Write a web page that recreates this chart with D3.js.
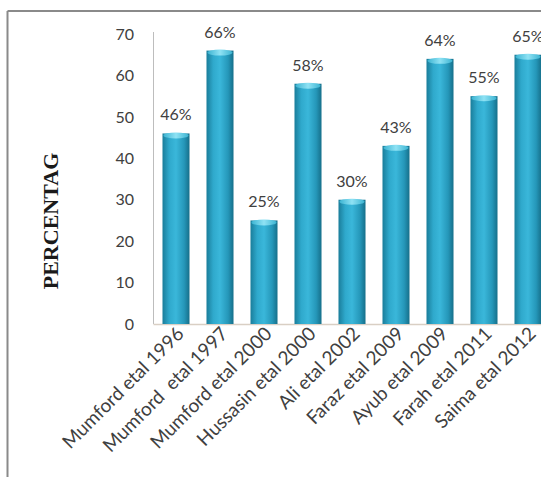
<!DOCTYPE html>
<html>
<head>
<meta charset="utf-8">
<script src="https://cdn.jsdelivr.net/npm/d3@7"></script>
<style>
  body { margin: 0; background: #fff; }
  svg { display: block; }
</style>
</head>
<body>
<svg id="chart"></svg>
<script>
// data
var studies = ['Mumford etal 1996', 'Mumford  etal 1997', 'Mumford etal 2000', 'Hussasin etal 2000',
               'Ali etal 2002', 'Faraz etal 2009', 'Ayub etal 2009', 'Farah etal 2011', 'Saima etal 2012'];
var percents = [46, 66, 25, 58, 30, 43, 64, 55, 65];
var yTicks = [0, 10, 20, 30, 40, 50, 60, 70];

var W = 541, H = 477;
var svg = d3.select('#chart').attr('width', W).attr('height', H);

// frame (cropped on the right and bottom)
svg.append('line').attr('x1', 7.5).attr('y1', 11).attr('x2', W).attr('y2', 11)
   .attr('stroke', '#8a8a8a').attr('stroke-width', 2);
svg.append('line').attr('x1', 7.5).attr('y1', 11).attr('x2', 7.5).attr('y2', H)
   .attr('stroke', '#8a8a8a').attr('stroke-width', 2);

var x = d3.scaleBand().domain(studies).range([154, 550]).paddingInner(0.386).paddingOuter(0.193);
var y = d3.scaleLinear().domain([0, 70]).range([324, 34]);

// bar shading
var defs = svg.append('defs');
var grad = defs.append('linearGradient').attr('id', 'barGrad')
	.attr('x1', '0%').attr('x2', '100%').attr('y1', '0%').attr('y2', '0%');
grad.append('stop').attr('offset', '0%').attr('stop-color', '#1a7d9a');
grad.append('stop').attr('offset', '25%').attr('stop-color', '#2fa9cc');
grad.append('stop').attr('offset', '50%').attr('stop-color', '#3ab7da');
grad.append('stop').attr('offset', '80%').attr('stop-color', '#2597b9');
grad.append('stop').attr('offset', '100%').attr('stop-color', '#166f8a');
var capGrad = defs.append('linearGradient').attr('id', 'capGrad')
	.attr('x1', '0%').attr('x2', '100%');
capGrad.append('stop').attr('offset', '0%').attr('stop-color', '#3cb4d2');
capGrad.append('stop').attr('offset', '50%').attr('stop-color', '#8fe2f4');
capGrad.append('stop').attr('offset', '100%').attr('stop-color', '#3cb4d2');

// axes lines
svg.append('line').attr('x1', 153.5).attr('x2', 153.5).attr('y1', y(70) - 2).attr('y2', y(0))
   .attr('stroke', '#bdbdbd').attr('stroke-width', 1);
svg.append('line').attr('x1', 153.5).attr('x2', W).attr('y1', y(0) + 0.5).attr('y2', y(0) + 0.5)
   .attr('stroke', '#d9cfc4').attr('stroke-width', 1.5);

// y tick labels
svg.append('g').selectAll('text')
	.data(yTicks)
	.enter()
	.append('text')
	.attr('x', 134)
	.attr('y', function(d) { return y(d); })
	.attr('dy', '0.36em')
	.attr('text-anchor', 'end')
	.style('font-family', 'Lato, sans-serif')
	.style('font-size', '16px')
	.attr('fill', '#404040')
	.text(function(d) { return d; });

// bars
var bars = svg.append('g').selectAll('g')
	.data(percents)
	.enter()
	.append('g');

bars.append('rect')
	.attr('x', function(d, i) { return x(studies[i]); })
	.attr('y', function(d) { return y(d); })
	.attr('width', x.bandwidth())
	.attr('height', function(d) { return y(0) - y(d); })
	.attr('fill', 'url(#barGrad)');

bars.append('ellipse')
	.attr('cx', function(d, i) { return x(studies[i]) + x.bandwidth() / 2; })
	.attr('cy', function(d) { return y(d) + 2; })
	.attr('rx', x.bandwidth() / 2 - 1)
	.attr('ry', 3)
	.attr('fill', 'url(#capGrad)');

// value labels
bars.append('text')
	.attr('x', function(d, i) { return x(studies[i]) + x.bandwidth() / 2; })
	.attr('y', function(d) { return y(d) - 13; })
	.attr('text-anchor', 'middle')
	.style('font-family', 'Lato, sans-serif')
	.style('font-size', '16px')
	.attr('fill', '#404040')
	.text(function(d) { return d + '%'; });

// category labels
svg.append('g').selectAll('text')
	.data(studies)
	.enter()
	.append('text')
	.attr('transform', function(d) {
		return 'translate(' + (x(d) + x.bandwidth() / 2 + 9) + ',' + 335 + ') rotate(-45)';
	})
	.attr('text-anchor', 'end')
	.style('font-family', 'Lato, sans-serif')
	.style('font-size', '19px')
	.style('white-space', 'pre')
	.attr('fill', '#404040')
	.text(function(d) { return d; });

// y axis title
svg.append('text')
	.attr('transform', 'translate(58,221) rotate(-90)')
	.attr('text-anchor', 'middle')
	.style('font-family', '"Liberation Serif", "Times New Roman", serif')
	.style('font-weight', 'bold')
	.style('font-size', '22px')
	.attr('fill', '#1a1a1a')
	.text('PERCENTAG');
</script>
</body>
</html>
